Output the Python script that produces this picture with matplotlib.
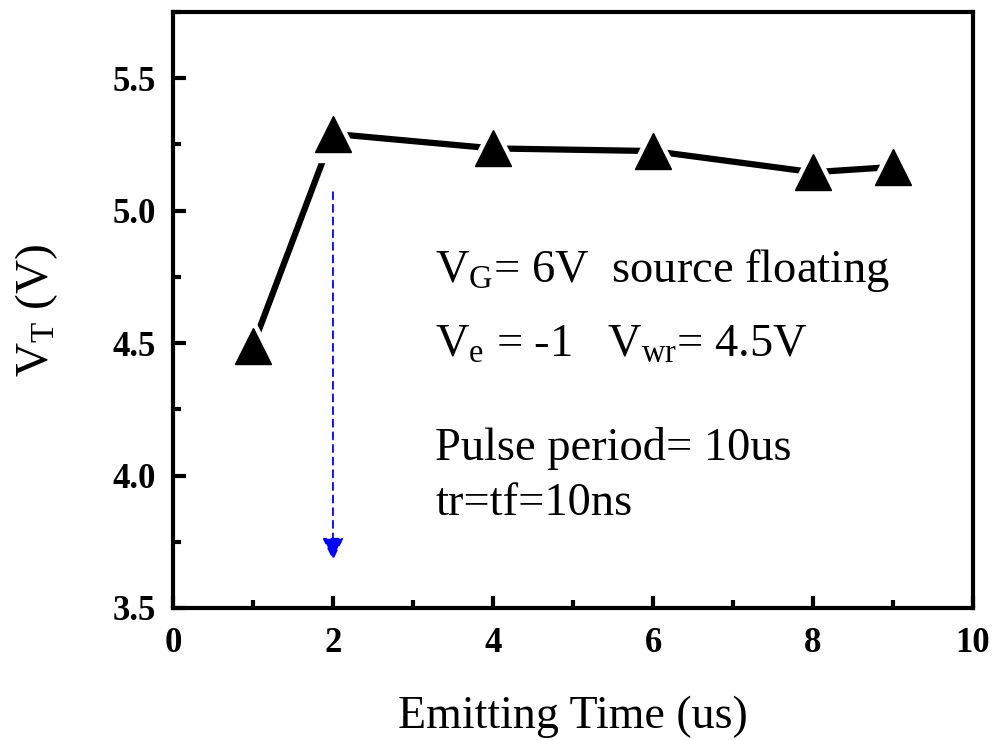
import matplotlib
matplotlib.use('Agg')
import matplotlib.pyplot as plt
from matplotlib.ticker import MultipleLocator

plt.rcParams['font.family'] = ['Liberation Serif', 'DejaVu Serif']
plt.rcParams['mathtext.fontset'] = 'custom'
plt.rcParams['mathtext.rm'] = 'Liberation Serif'
plt.rcParams['mathtext.it'] = 'Liberation Serif:italic'

# data
emit_time = [1, 2, 4, 6, 8, 9]
vt = [4.49, 5.29, 5.235, 5.225, 5.145, 5.165]

arrow_x = 2
arrow_top = 5.07
arrow_bottom = 3.68

fig = plt.figure(figsize=(9.98, 7.4), dpi=100)
ax = fig.add_axes([0.1733, 0.1784, 0.8017, 0.8054])

ax.plot(emit_time, vt, color='black', lw=4.5, zorder=2)
# white halo so the line stops short of each marker
ax.plot(emit_time, vt, ls='none', marker='^', ms=40, color='white', zorder=3)
ax.plot(emit_time, vt, ls='none', marker='^', ms=26, color='black', zorder=4)

ax.annotate('', xy=(arrow_x, arrow_bottom), xytext=(arrow_x, arrow_top),
            arrowprops=dict(arrowstyle='-|>,head_length=0.7,head_width=0.33',
                            mutation_scale=20,
                            color='blue', ls=(0, (4, 3)), lw=1.3,
                            shrinkA=0, shrinkB=0))

ax.set_xlim(0, 10)
ax.set_ylim(3.5, 5.75)
ax.xaxis.set_major_locator(MultipleLocator(2))
ax.xaxis.set_minor_locator(MultipleLocator(1))
ax.yaxis.set_major_locator(MultipleLocator(0.5))
ax.yaxis.set_minor_locator(MultipleLocator(0.25))
ax.tick_params(which='both', direction='in', width=3, top=False, right=False)
ax.tick_params(which='major', length=9, labelsize=25)
ax.tick_params(axis='x', which='major', pad=14)
ax.tick_params(axis='y', which='major', pad=12)
ax.tick_params(which='minor', length=6)
for lab in ax.get_xticklabels() + ax.get_yticklabels():
    lab.set_fontweight('bold')
for sp in ax.spines.values():
    sp.set_linewidth(3)

ax.set_xlabel('Emitting Time (us)', fontsize=33, labelpad=25)
ax.set_ylabel(r'V$_{\mathrm{T}}$ (V)', fontsize=34, labelpad=38)

fs = 33.5
ax.text(3.28, 4.73, r'V$_{\mathrm{G}}$= 6V  source floating', fontsize=fs)
ax.text(3.28, 4.447, r'V$_{\mathrm{e}}$ = -1   V$_{\mathrm{wr}}$= 4.5V', fontsize=fs)
ax.text(3.28, 4.06, 'Pulse period= 10us', fontsize=fs)
ax.text(3.28, 3.85, 'tr=tf=10ns', fontsize=fs)

fig.savefig('out.png', dpi=100)
